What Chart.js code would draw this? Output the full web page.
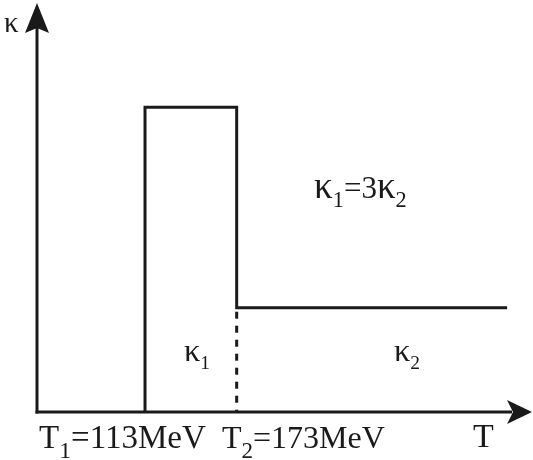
<!DOCTYPE html>
<html>
<head>
<meta charset="utf-8">
<script src="https://cdn.jsdelivr.net/npm/chart.js@4"></script>
<style>
  html, body { margin: 0; padding: 0; background: #fff; }
  #wrap { width: 533px; height: 460px; position: relative; }
</style>
</head>
<body>
<div id="wrap"><canvas id="kappa-chart"></canvas></div>
<script>
// step profile of kappa(T)
const stepT = [113, 113, 173, 173, 350];
const stepKappa = [0, 2.98, 2.98, 1.02, 1.02];
// dashed drop at T2
const dashT = [173, 173];
const dashKappa = [1.02, 0];
// axis ranges
const tRange = [42.3, 366.3];
const kappaRange = [0, 4];

// text pieces: [text, isSubscript]
const tickLabels = [
  [["T", 0], ["1", 1], ["=113MeV", 0]],
  [["T", 0], ["2", 1], ["=173MeV", 0]],
];
const axisTitles = { x: [["T", 0]], y: [["κ", 0]] };
const regionLabels = [
  [["κ", 0], ["1", 1], ["=3", 0], ["κ", 0], ["2", 1]],
  [["κ", 0], ["1", 1]],
  [["κ", 0], ["2", 1]],
];

const ink = "#1a1a1a";
const serif = '"Liberation Serif", "DejaVu Serif", serif';

function toPoints(xs, ys) {
  return xs.map((x, i) => ({ x: x, y: ys[i] }));
}

function drawRuns(ctx, x, y, runs, size) {
  ctx.textBaseline = "alphabetic";
  ctx.textAlign = "left";
  let cx = x;
  for (const [txt, sub] of runs) {
    // kappa glyph drawn a bit larger, like the Symbol font one
    let s = sub ? size * 0.72 : size;
    if (txt === "κ") s = size * 1.2;
    ctx.font = s + "px " + serif;
    ctx.fillText(txt, cx, sub ? y + size * 0.3 : y);
    cx += ctx.measureText(txt).width;
  }
}

const sketchAxes = {
  id: "sketchAxes",
  afterDatasetsDraw(chart) {
    const { ctx, chartArea } = chart;
    const { left, right, top, bottom } = chartArea;
    ctx.save();
    ctx.strokeStyle = ink;
    ctx.fillStyle = ink;
    ctx.lineWidth = 3;
    ctx.lineCap = "butt";

    // x axis + arrow
    ctx.beginPath();
    ctx.moveTo(left - 1.5, bottom);
    ctx.lineTo(right - 20, bottom);
    ctx.stroke();
    ctx.beginPath();
    ctx.moveTo(right, bottom);
    ctx.lineTo(right - 25, bottom - 12);
    ctx.lineTo(right - 19, bottom);
    ctx.lineTo(right - 25, bottom + 12);
    ctx.closePath();
    ctx.fill();

    // y axis + arrow
    ctx.beginPath();
    ctx.moveTo(left, bottom + 1.5);
    ctx.lineTo(left, top + 22);
    ctx.stroke();
    ctx.beginPath();
    ctx.moveTo(left, top);
    ctx.lineTo(left - 12, top + 30);
    ctx.lineTo(left, top + 25);
    ctx.lineTo(left + 12, top + 30);
    ctx.closePath();
    ctx.fill();

    // texts
    drawRuns(ctx, 4, 32, axisTitles.y, 24);
    drawRuns(ctx, 473, 447, axisTitles.x, 34);
    drawRuns(ctx, 39, 448, tickLabels[0], 33);
    drawRuns(ctx, 222, 448, tickLabels[1], 32);
    drawRuns(ctx, 314, 198, regionLabels[0], 31);
    drawRuns(ctx, 184, 361, regionLabels[1], 27);
    drawRuns(ctx, 394, 361, regionLabels[2], 27);
    ctx.restore();
  },
};

new Chart(document.querySelector("#kappa-chart"), {
  type: "scatter",
  data: {
    datasets: [
      {
        data: toPoints(stepT, stepKappa),
        showLine: true,
        borderColor: ink,
        borderWidth: 3,
        pointRadius: 0,
        borderJoinStyle: "miter",
        tension: 0,
      },
      {
        data: toPoints(dashT, dashKappa),
        showLine: true,
        borderColor: ink,
        borderWidth: 3,
        borderDash: [7, 7],
        borderDashOffset: -4,
        pointRadius: 0,
      },
    ],
  },
  options: {
    responsive: true,
    maintainAspectRatio: false,
    animation: false,
    layout: { padding: { left: 37, right: 1, top: 3, bottom: 48 } },
    plugins: { legend: { display: false }, tooltip: { enabled: false } },
    scales: {
      x: { type: "linear", min: tRange[0], max: tRange[1], display: false },
      y: { type: "linear", min: kappaRange[0], max: kappaRange[1], display: false },
    },
  },
  plugins: [sketchAxes],
});
</script>
</body>
</html>
